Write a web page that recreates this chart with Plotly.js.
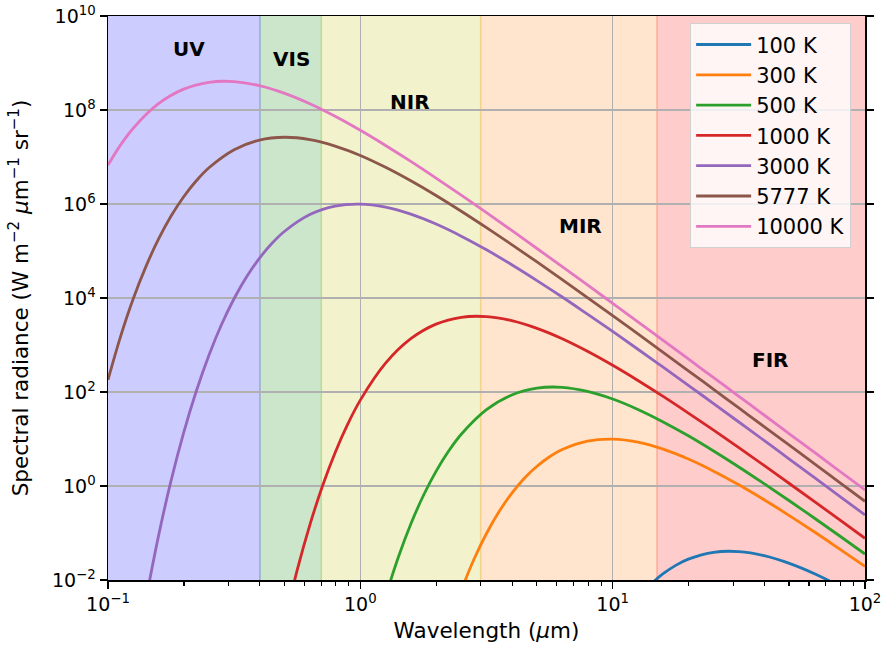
<!DOCTYPE html>
<html>
<head>
<meta charset="utf-8">
<script src="https://cdn.plot.ly/plotly-3.0.1.min.js"></script>
<style>
  html, body { margin: 0; padding: 0; background: #ffffff; }
  #chart { width: 884px; height: 648px; }
</style>
</head>
<body>
<div id="chart"></div>
<script>
// Blackbody spectral radiance (W m^-2 um^-1 sr^-1) against wavelength (um)
const temperatures = ["100 K", "300 K", "500 K", "1000 K", "3000 K", "5777 K", "10000 K"];
const lineColors = ["#1f77b4", "#ff7f0e", "#2ca02c", "#d62728", "#9467bd", "#8c564b", "#e377c2"];

const wl100 = [12.59, 14.13, 15.85, 17.78, 19.95, 25.12, 31.62, 39.81, 50.12, 63.1, 79.43, 100];
const rad100 = [4.10e-3, 7.98e-3, 0.0136, 0.0205, 0.0278, 0.0389, 0.0402, 0.0330, 0.0226, 0.0136, 7.36e-3, 3.70e-3];

const wl300 = [2.512, 2.818, 3.162, 3.548, 3.981, 4.467, 5.012, 5.623, 6.31, 7.943, 10, 12.59, 15.85, 19.95, 25.12, 31.62, 39.81, 50.12, 63.1, 79.43, 100];
const rad300 = [6.08e-3, 0.0273, 0.0976, 0.286, 0.698, 1.46, 2.63, 4.19, 5.96, 9.01, 9.92, 8.54, 6.07, 3.74, 2.07, 1.06, 0.510, 0.235, 0.105, 0.0454, 0.0194];

const wl500 = [1.259, 1.413, 1.585, 1.778, 1.995, 2.239, 2.512, 3.162, 3.981, 5.012, 6.31, 7.943, 10, 12.59, 15.85, 19.95, 25.12, 31.62, 39.81, 50.12, 63.1, 79.43, 100];
const rad500 = [4.46e-3, 0.0301, 0.155, 0.628, 2.05, 5.54, 12.6, 42.1, 86.5, 121, 126, 103, 71.0, 42.6, 23.1, 11.7, 5.55, 2.54, 1.12, 0.486, 0.206, 0.0863, 0.0357];

const wl1000 = [0.5012, 0.5623, 0.631, 0.7079, 0.7943, 0.8913, 1, 1.259, 1.585, 1.995, 2.512, 3.162, 3.981, 5.012, 6.31, 7.943, 10, 12.59, 15.85, 19.95, 25.12, 31.62, 39.81, 50.12, 63.1, 79.43, 100];
const rad1000 = [1.28e-3, 0.0164, 0.149, 0.999, 5.12, 20.7, 67.2, 410, 1.36e3, 2.78e3, 3.89e3, 4.02e3, 3.30e3, 2.26e3, 1.36e3, 736, 370, 176, 80.5, 35.6, 15.4, 6.54, 2.74, 1.13, 0.465, 0.190, 0.0770];

const wl3000 = [0.1413, 0.1585, 0.1778, 0.1995, 0.2239, 0.2512, 0.2818, 0.3162, 0.3548, 0.3981, 0.4467, 0.5012, 0.631, 0.7943, 1, 1.259, 1.585, 1.995, 2.512, 3.162, 3.981, 5.012, 6.31, 7.943, 10, 12.59, 15.85, 19.95, 25.12, 31.62, 39.81, 50.12, 63.1, 79.43, 100];
const rad3000 = [3.80e-3, 0.0859, 1.30, 13.7, 105, 608, 2.73e3, 9.76e3, 2.86e4, 6.98e4, 1.46e5, 2.63e5, 5.96e5, 9.01e5, 9.92e5, 8.54e5, 6.07e5, 3.74e5, 2.07e5, 1.06e5, 5.10e4, 2.35e4, 1.05e4, 4.54e3, 1.94e3, 812, 337, 139, 56.6, 23.0, 9.30, 3.75, 1.51, 0.605, 0.242];

const wl5777 = [0.1, 0.1122, 0.1259, 0.1413, 0.1585, 0.1778, 0.1995, 0.2239, 0.2512, 0.3162, 0.3981, 0.5012, 0.631, 0.7943, 1, 1.259, 1.585, 1.995, 2.512, 3.162, 3.981, 5.012, 6.31, 7.943, 10, 12.59, 15.85, 19.95, 25.12, 31.62, 39.81, 50.12, 63.1, 79.43, 100];
const rad5777 = [182, 1.53e3, 9.64e3, 4.66e4, 1.78e5, 5.54e5, 1.43e6, 3.12e6, 5.89e6, 1.43e7, 2.29e7, 2.63e7, 2.34e7, 1.71e7, 1.08e7, 6.04e6, 3.12e6, 1.52e6, 7.02e5, 3.14e5, 1.37e5, 5.85e4, 2.46e4, 1.02e4, 4.21e3, 1.72e3, 700, 283, 114, 45.9, 18.4, 7.39, 2.96, 1.18, 0.472];

const wl10000 = [0.1, 0.1122, 0.1259, 0.1585, 0.1995, 0.2512, 0.3162, 0.3981, 0.5012, 0.631, 0.7943, 1, 1.259, 1.585, 1.995, 2.512, 3.162, 3.981, 5.012, 6.31, 7.943, 10, 12.59, 15.85, 19.95, 25.12, 31.62, 39.81, 50.12, 63.1, 79.43, 100];
const rad10000 = [6.72e6, 1.81e7, 4.10e7, 1.36e8, 2.78e8, 3.89e8, 4.02e8, 3.30e8, 2.26e8, 1.36e8, 7.36e7, 3.70e7, 1.76e7, 8.05e6, 3.56e6, 1.54e6, 6.54e5, 2.74e5, 1.13e5, 4.65e4, 1.90e4, 7.70e3, 3.11e3, 1.25e3, 504, 202, 80.9, 32.4, 12.9, 5.17, 2.06, 0.822];

// Spectral bands (um) and their shading
const bandNames = ["UV", "VIS", "NIR", "MIR", "FIR"];
const bandStart = [0.1, 0.4, 0.7, 3, 15];
const bandEnd = [0.4, 0.7, 3, 15, 100];
const bandFill = ["#ccccff", "#cce6cc", "#f2f2cc", "#ffe5ce", "#ffcccc"];
const bandEdges = [0.4, 0.7, 3, 15];
const bandEdgeColors = ["#98afcc", "#bcdc98", "#f2d48c", "#ffab98"];
// Where each band name sits (wavelength um, radiance)
const labelWl = [0.209, 0.536, 1.58, 7.46, 42.4];
const labelRad = [1.94e9, 1.2e9, 1.49e8, 3.4e5, 487];

const xTickVals = [0.1, 1, 10, 100];
const xTickText = ["10<sup>\u22121</sup>", "10<sup>0</sup>", "10<sup>1</sup>", "10<sup>2</sup>"];
const yTickVals = [1e-2, 1, 1e2, 1e4, 1e6, 1e8, 1e10];
const yTickText = ["10<sup>\u22122</sup>", "10<sup>0</sup>", "10<sup>2</sup>", "10<sup>4</sup>", "10<sup>6</sup>", "10<sup>8</sup>", "10<sup>10</sup>"];

const wavelengths = [wl100, wl300, wl500, wl1000, wl3000, wl5777, wl10000];
const radiances = [rad100, rad300, rad500, rad1000, rad3000, rad5777, rad10000];

const traces = temperatures.map((name, i) => ({
  type: "scatter",
  mode: "lines",
  name: name,
  legendgroup: name,
  x: wavelengths[i],
  y: radiances[i],
  line: { color: lineColors[i], width: 2.8, shape: "spline", smoothing: 1 }
}));

// minor ticks at 2..9 in every decade of the wavelength axis
const minorX = [];
for (let d = -1; d < 2; d++) {
  for (let m = 2; m <= 9; m++) minorX.push(m * Math.pow(10, d));
}

const shapes = [];
bandNames.forEach((b, i) => {
  shapes.push({
    type: "rect", xref: "x", yref: "paper",
    x0: bandStart[i], x1: bandEnd[i], y0: 0, y1: 1,
    fillcolor: bandFill[i], line: { width: 0 }, layer: "below"
  });
});
bandEdges.forEach((e, i) => {
  shapes.push({
    type: "line", xref: "x", yref: "paper",
    x0: e, x1: e, y0: 0, y1: 1,
    line: { color: bandEdgeColors[i], width: 1.6 }, layer: "below"
  });
});

const annotations = bandNames.map((b, i) => ({
  xref: "x", yref: "y",
  x: Math.log10(labelWl[i]), y: Math.log10(labelRad[i]),
  text: "<b>" + b + "</b>",
  showarrow: false,
  font: { family: "DejaVu Sans", size: 20, color: "#000000" },
  xanchor: "center", yanchor: "middle"
}));

const layout = {
  width: 884, height: 648,
  margin: { l: 108, r: 19, t: 16, b: 68 },
  paper_bgcolor: "#ffffff",
  plot_bgcolor: "#ffffff",
  font: { family: "DejaVu Sans", size: 19, color: "#000000" },
  showlegend: true,
  legend: {
    x: 0.769, y: 0.987, xanchor: "left", yanchor: "top",
    bgcolor: "rgba(255,255,255,0.8)", bordercolor: "#d0d0d0", borderwidth: 1,
    font: { family: "DejaVu Sans", size: 21, color: "#000000" },
    tracegroupgap: 0, itemwidth: 55
  },
  xaxis: {
    type: "log", range: [-1, 2],
    title: { text: "Wavelength (<i>\u03bc</i>m)", font: { size: 21.5 }, standoff: 8 },
    tickmode: "array", tickvals: xTickVals, ticktext: xTickText,
    ticks: "outside", ticklen: 7, tickwidth: 1.5, tickcolor: "#000000",
    showline: true, linecolor: "#000000", linewidth: 1.5, mirror: true,
    showgrid: true, gridcolor: "#b0b0b0", gridwidth: 1.5,
    zeroline: false,
    tickfont: { size: 19 },
    minor: { tickmode: "array", tickvals: minorX, ticks: "outside", ticklen: 4, tickwidth: 1.1, tickcolor: "#000000", showgrid: false }
  },
  yaxis: {
    type: "log", range: [-2, 10],
    title: { text: "Spectral radiance (W m<sup>\u22122</sup> <i>\u03bc</i>m<sup>\u22121</sup> sr<sup>\u22121</sup>)", font: { size: 21.5 }, standoff: 17 },
    tickmode: "array", tickvals: yTickVals, ticktext: yTickText,
    ticks: "outside", ticklen: 7, tickwidth: 1.5, tickcolor: "#000000",
    showline: true, linecolor: "#000000", linewidth: 1.5, mirror: "allticks",
    showgrid: true, gridcolor: "#b0b0b0", gridwidth: 1.5,
    zeroline: false,
    tickfont: { size: 19 }
  },
  shapes: shapes,
  annotations: annotations
};

Plotly.newPlot("chart", traces, layout, { displayModeBar: false, staticPlot: true });
</script>
</body>
</html>
